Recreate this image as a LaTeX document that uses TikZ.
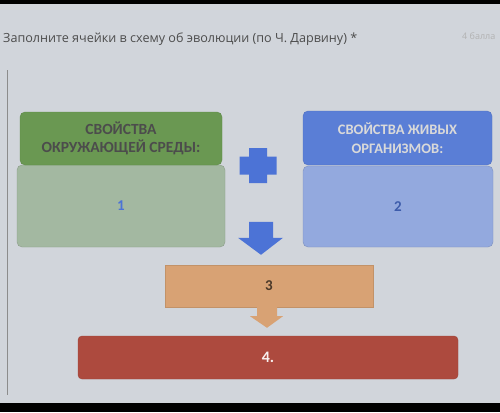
\documentclass[tikz,border=0pt]{standalone}
\usepackage{fontspec}
\setmainfont{Carlito}
\newfontfamily\titlefont{Open Sans}
\usetikzlibrary{calc}

\definecolor{bgray}{HTML}{D1D5DB}
\definecolor{greenhead}{HTML}{6A9852}
\definecolor{greenbody}{HTML}{A3B8A1}
\definecolor{bluehead}{HTML}{5A7ED6}
\definecolor{bluebody}{HTML}{93A9DE}
\definecolor{bluemark}{HTML}{4C73D6}
\definecolor{orangebox}{HTML}{D8A274}
\definecolor{redbox}{HTML}{AD4A3E}

\begin{document}
\begin{tikzpicture}[x=1pt,y=-1pt]
\tikzstyle{box}=[rectangle, rounded corners=5pt, align=center, inner sep=0pt, font=\bfseries]
\tikzstyle{head}=[box, font=\bfseries\fontsize{14.5}{18.5}\selectfont]
\tikzstyle{digit}=[font=\bfseries\fontsize{15}{18}\selectfont]

% screen and frame
\fill[bgray] (0,0) rectangle (500,412);
\fill[black] (0,0) rectangle (500,4);
\fill[black] (0,403) rectangle (500,412);
\useasboundingbox (0,0) rectangle (500,412);

\node (title) [anchor=base west, inner sep=0pt, text=black!70, font=\titlefont\fontsize{12.6}{14}\selectfont] at (3,42) {Заполните ячейки в схему об эволюции (по Ч. Дарвину) *};
\node (points) [anchor=base west, inner sep=0pt, text=black!30, font=\titlefont\fontsize{9}{10}\selectfont] at (462,40) {4 балла};
\coordinate (lineTop) at (7.5,70);
\coordinate (lineEnd) at (7.5,395);
\draw[black!45, line width=1.2pt] (lineTop) -- (lineEnd);

% left column
\node (envBody) at (121,206) [box, digit, fill=greenbody, draw=greenbody!85!black, minimum width=208, minimum height=82, text=bluemark] {1};
\node (envHead) at (121,138.5) [head, font=\bfseries\fontsize{15.5}{18.5}\selectfont, fill=greenhead, draw=greenhead!90!black, minimum width=202, minimum height=53, text=black!70] {СВОЙСТВА\\ОКРУЖАЮЩЕЙ СРЕДЫ:};

% right column
\node (orgBody) at (398,206.5) [box, digit, fill=bluebody, draw=bluebody!85!black, minimum width=190, minimum height=81, text=bluemark!80!black] {2};
\node (orgHead) at (397.5,138) [head, fill=bluehead, draw=bluehead!90!black, minimum width=189, minimum height=54, text=black!15] {СВОЙСТВА ЖИВЫХ\\ОРГАНИЗМОВ:};

% plus
\node (plus) at (258,165.5) [inner sep=0pt, minimum size=0pt] {};
\fill[bluemark] ($(plus)+(-9,-17.5)$) -- ++(18,0) -- ++(0,8.5) -- ++(9.5,0) -- ++(0,18) -- ++(-9.5,0) -- ++(0,8.5) -- ++(-18,0) -- ++(0,-8.5) -- ++(-9.5,0) -- ++(0,-18) -- ++(9.5,0) -- cycle;

% result boxes
\node (choice) at (269,286) [box, digit, rounded corners=0pt, fill=orangebox, draw=orangebox!90!black, minimum width=208, minimum height=42, text=black!65!orangebox] {3};
\node (result) at (268,357.5) [box, rounded corners=4pt, fill=redbox, draw=redbox!90!black, minimum width=380, minimum height=43, text=white!92!redbox, font=\bfseries\fontsize{16}{18}\selectfont] {4.};

% block arrows
\fill[bluemark] ($(choice.north)+(-20,-43)$) -- ++(24,0) -- ++(0,16) -- ++(10,0) -- ($(choice.north)+(-8,-10)$) -- ($(choice.north)+(-31,-27)$) -- ++(11,0) -- cycle;
\fill[orangebox] ($(choice.south)+(-12,0)$) -- ++(20,0) -- ++(0,9) -- ++(6,0) -- ($(result.north)+(-1,-8)$) -- ($(choice.south)+(-19,9)$) -- ++(7,0) -- cycle;

\end{tikzpicture}
\end{document}
